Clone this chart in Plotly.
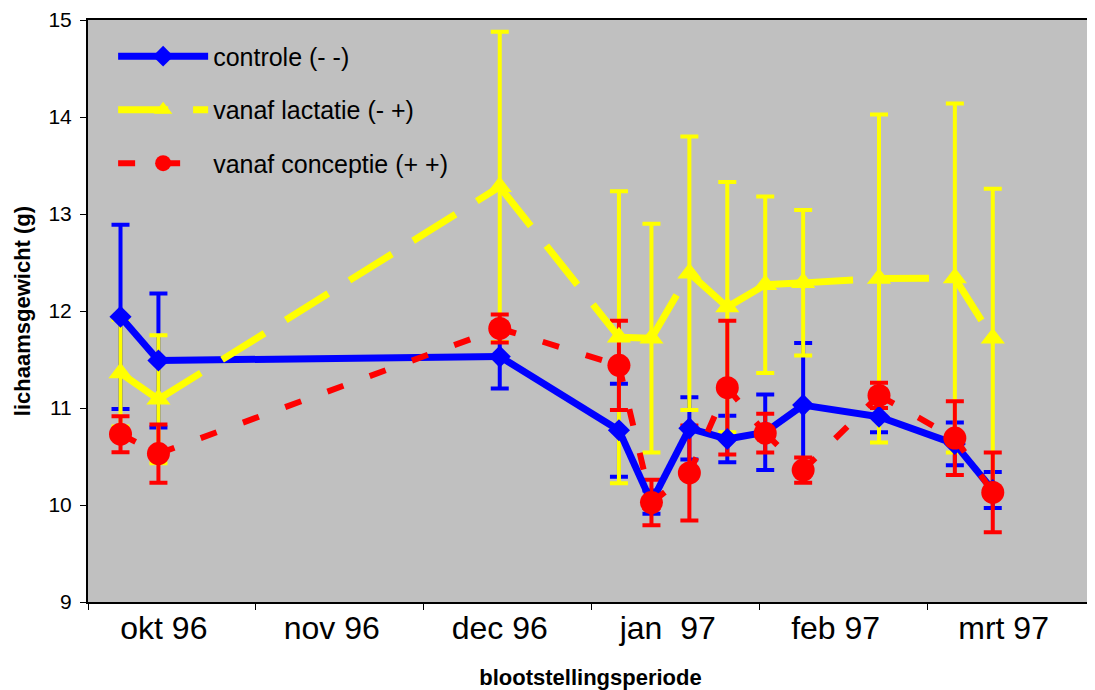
import plotly.graph_objects as go

# ---- data ----
days = [6, 13, 76, 98, 104, 111, 118, 125, 132, 146, 160, 167]   # days since 1 okt 96
controle = [11.94, 11.49, 11.53, 10.77, 10.03, 10.79, 10.68, 10.75, 11.03, 10.91, 10.63, 10.155]
controle_sd = [0.95, 0.69, 0.33, 0.48, 0.12, 0.32, 0.24, 0.39, 0.64, 0.16, 0.22, 0.185]
lactatie = [11.36, 11.09, 13.28, 11.73, 11.72, 12.39, 12.04, 12.27, 12.29, 12.335, 12.34, 11.72]
lactatie_sd = [0.55, 0.66, 1.60, 1.505, 1.18, 1.41, 1.29, 0.91, 0.75, 1.69, 1.80, 1.54]
conceptie = [10.73, 10.53, 11.82, 11.44, 10.025, 10.33, 11.21, 10.74, 10.36, 11.13, 10.69, 10.13]
conceptie_sd = [0.185, 0.30, 0.145, 0.46, 0.235, 0.49, 0.69, 0.20, 0.13, 0.13, 0.38, 0.41]

series_names = ["controle (- -)", "vanaf lactatie (- +)", "vanaf conceptie (+ +)"]
month_labels = ["okt 96", "nov 96", "dec 96", "jan\u00a0\u00a097", "feb 97", "mrt 97"]
month_starts = [0, 31, 62, 93, 124, 155]
label_days = [14, 45, 76, 107, 138, 169]
y_ticks = [9, 10, 11, 12, 13, 14, 15]

FONT = "Liberation Sans, Arial, sans-serif"

styles = [
    dict(color="#0000FF", width=7, dash="solid", symbol="diamond", size=17),
    dict(color="#FFFF00", width=7, dash="50px,25px", symbol="triangle-up", size=21),
    dict(color="#FF0000", width=6, dash="17px,28px", symbol="circle", size=23),
]
values = [controle, lactatie, conceptie]
errors = [controle_sd, lactatie_sd, conceptie_sd]

fig = go.Figure()

# error bars first (beneath all lines and markers)
for vals, errs, st in zip(values, errors, styles):
    fig.add_trace(go.Scatter(
        x=days, y=vals, mode="markers",
        marker=dict(size=1, color="rgba(0,0,0,0)"),
        error_y=dict(type="data", array=errs, visible=True, color=st["color"],
                     thickness=4, width=9),
        showlegend=False, hoverinfo="skip"))

# lines (each segment restarts its dash pattern) and markers
for vals, st in zip(values, styles):
    for i in range(len(days) - 1):
        fig.add_trace(go.Scatter(
            x=days[i:i + 2], y=vals[i:i + 2], mode="lines",
            line=dict(color=st["color"], width=st["width"], dash=st["dash"]),
            showlegend=False, hoverinfo="skip"))
    fig.add_trace(go.Scatter(
        x=days, y=vals, mode="markers",
        marker=dict(symbol=st["symbol"], size=st["size"], color=st["color"],
                    line=dict(width=0)),
        showlegend=False))

# legend entries
for name, st in zip(series_names, styles):
    fig.add_trace(go.Scatter(
        x=[None], y=[None], mode="lines+markers", name=name, legendgroup=name,
        line=dict(color=st["color"], width=st["width"], dash=st["dash"]),
        marker=dict(symbol=st["symbol"], size=st["size"], color=st["color"])))

# the page body adds an 8px margin, so the figure is sized to fit the window
fig.update_layout(
    width=1087, height=682,
    margin=dict(l=80, r=2, t=12, b=88, autoexpand=False),
    paper_bgcolor="white", plot_bgcolor="#C0C0C0",
    font=dict(family=FONT, color="black"),
    legend=dict(x=0.025, y=0.977, xanchor="left", yanchor="top",
                bgcolor="rgba(0,0,0,0)", font=dict(size=25, family=FONT),
                itemwidth=90, traceorder="grouped", tracegroupgap=18),
    xaxis=dict(
        range=[0, 185.5], showgrid=False, zeroline=False, automargin=False,
        tickmode="array", tickvals=label_days, ticktext=month_labels,
        ticks="outside", ticklen=1, tickcolor="rgba(0,0,0,0)",
        ticklabelstandoff=-4,
        tickfont=dict(size=32, family=FONT),
        minor=dict(tickmode="array", tickvals=month_starts, ticks="outside",
                   ticklen=6, tickwidth=1, tickcolor="black", showgrid=False),
        showline=True, linecolor="black", linewidth=2, mirror=True,
        title=dict(text="<b>blootstellingsperiode</b>", font=dict(size=22, family=FONT),
                   standoff=24),
    ),
    yaxis=dict(
        range=[9, 15], showgrid=False, zeroline=False, automargin=False,
        tickmode="array", tickvals=y_ticks,
        ticks="outside", ticklen=6, tickwidth=1, tickcolor="black",
        ticklabelstandoff=4,
        tickfont=dict(size=21, family=FONT),
        showline=True, linecolor="black", linewidth=2, mirror=True,
        title=dict(text="<b>lichaamsgewicht (g)</b>", font=dict(size=22, family=FONT),
                   standoff=12),
    ),
)

fig.write_html("out.html")
